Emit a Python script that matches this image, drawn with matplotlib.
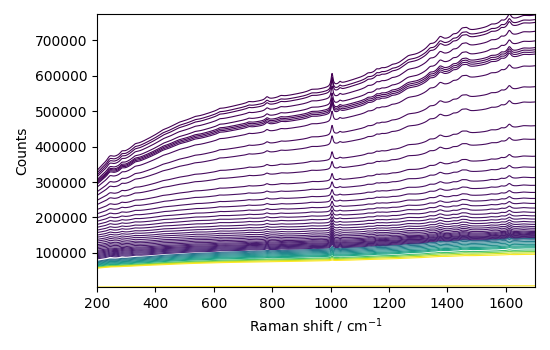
import numpy as np
import matplotlib
matplotlib.use("Agg")
import matplotlib.pyplot as plt

# Raman shift axis of the spectrometer (cm-1)
shift = np.arange(200.0, 1700.5, 1.0)

# Fluorescence background shape: fraction of the rise from 200 to 1700 cm-1
profile_shift = [200, 215, 240, 280, 330, 380, 430, 480, 550, 630, 700, 790,
                 900, 1000, 1100, 1235, 1300, 1345, 1370, 1460, 1550, 1600, 1700]
profile_frac = [0.0, 0.03, 0.07, 0.10, 0.16, 0.21, 0.26, 0.31, 0.35, 0.40, 0.43, 0.46,
                0.50, 0.54, 0.60, 0.69, 0.75, 0.80, 0.82, 0.89, 0.93, 0.96, 1.0]

# Raman bands: centre (cm-1), half width (cm-1), height (counts) at full strength
band_centre = [245, 285, 330, 425, 535, 620, 720, 782, 830, 935, 1005, 1032, 1128,
               1158, 1175, 1210, 1265, 1340, 1375, 1420, 1450, 1465, 1550, 1585, 1612, 1660]
band_width = [10, 9, 12, 15, 15, 8, 8, 7, 10, 12, 4, 5, 8,
              7, 8, 8, 22, 10, 12, 9, 12, 10, 10, 7, 8, 18]
band_height = [9000, 8000, 5000, 3000, 3000, 3000, 3500, 8000, 4000, 4000, 36000, 6000, 4000,
               6000, 4000, 3000, 9000, 7000, 16000, 6000, 12000, 8000, 5000, 6000, 18000, 6000]

# Background counts of each spectrum at 200 cm-1 and at 1700 cm-1
start_counts = [332e3, 325e3, 319e3, 314e3, 306e3, 302e3, 299e3, 296e3, 293e3, 285e3,
                272e3, 262e3, 248e3, 236e3, 222e3, 210e3, 199e3, 189e3, 180e3, 172e3,
                164e3, 157e3, 150e3, 144e3, 138e3, 133e3, 128e3, 123e3, 119e3, 115e3,
                111e3, 107e3, 104e3, 101e3, 98e3, 95e3, 92e3, 89e3, 86e3, 83e3,
                76e3, 74e3, 72e3, 70e3, 68e3, 66e3, 64e3, 62e3,
                60e3, 59e3, 58e3, 57e3, 3.8e3]
end_counts = [770e3, 757e3, 749e3, 724e3, 697e3, 678e3, 672e3, 666e3, 660e3, 627e3,
              568e3, 525e3, 458e3, 420e3, 372e3, 341e3, 312e3, 290e3, 270e3, 253e3,
              239e3, 226e3, 214e3, 204e3, 195e3, 187e3, 180e3, 174e3, 169e3, 164e3,
              160e3, 157e3, 154e3, 151e3, 149e3, 147e3, 145e3, 143e3, 141e3, 139e3,
              140e3, 136e3, 132e3, 128e3, 124e3, 120e3, 117e3, 114e3,
              108e3, 104e3, 100e3, 96e3, 7.2e3]

# Relative strength of the Raman bands in each spectrum
band_scale = [1.00, 0.98, 0.96, 0.93, 0.90, 0.88, 0.87, 0.86, 0.85, 0.80,
              0.74, 0.70, 0.64, 0.60, 0.56, 0.53, 0.50, 0.48, 0.46, 0.45,
              0.44, 0.43, 0.42, 0.41, 0.40, 0.39, 0.38, 0.38, 0.37, 0.37,
              0.36, 0.36, 0.35, 0.35, 0.35, 0.34, 0.34, 0.34, 0.33, 0.33,
              0.20, 0.20, 0.18, 0.18, 0.16, 0.16, 0.14, 0.14,
              0.12, 0.10, 0.07, 0.05, 0.0]

# Position of each spectrum on the viridis colour scale
colour_value = [0.00, 0.00, 0.00, 0.01, 0.01, 0.01, 0.01, 0.02, 0.02, 0.02,
                0.02, 0.03, 0.03, 0.03, 0.03, 0.04, 0.04, 0.04, 0.04, 0.05,
                0.05, 0.05, 0.05, 0.06, 0.06, 0.06, 0.06, 0.07, 0.07, 0.07,
                0.07, 0.08, 0.08, 0.08, 0.08, 0.09, 0.09, 0.09, 0.10, 0.10,
                0.36, 0.40, 0.44, 0.47, 0.50, 0.53, 0.56, 0.60,
                0.70, 0.80, 0.92, 1.00, 1.00]

background_shape = np.interp(shift, profile_shift, profile_frac)
raman = np.zeros_like(shift)
for c, w, h in zip(band_centre, band_width, band_height):
    raman += h / (1.0 + ((shift - c) / w) ** 2)

cmap = plt.get_cmap("viridis")

fig = plt.figure(figsize=(5.5, 3.5), dpi=100)
ax = fig.add_subplot(111)
fig.subplots_adjust(left=0.1764, right=0.9727, top=0.96, bottom=0.18)

for s0, s1, k, cv in zip(start_counts, end_counts, band_scale, colour_value):
    spectrum = s0 + (s1 - s0) * background_shape + k * raman
    ax.plot(shift, spectrum, color=cmap(cv), lw=0.8)

ax.margins(x=0, y=0)
ax.set_xlabel("Raman shift / cm$^{-1}$")
ax.set_ylabel("Counts")

fig.savefig("out.png", dpi=100)
